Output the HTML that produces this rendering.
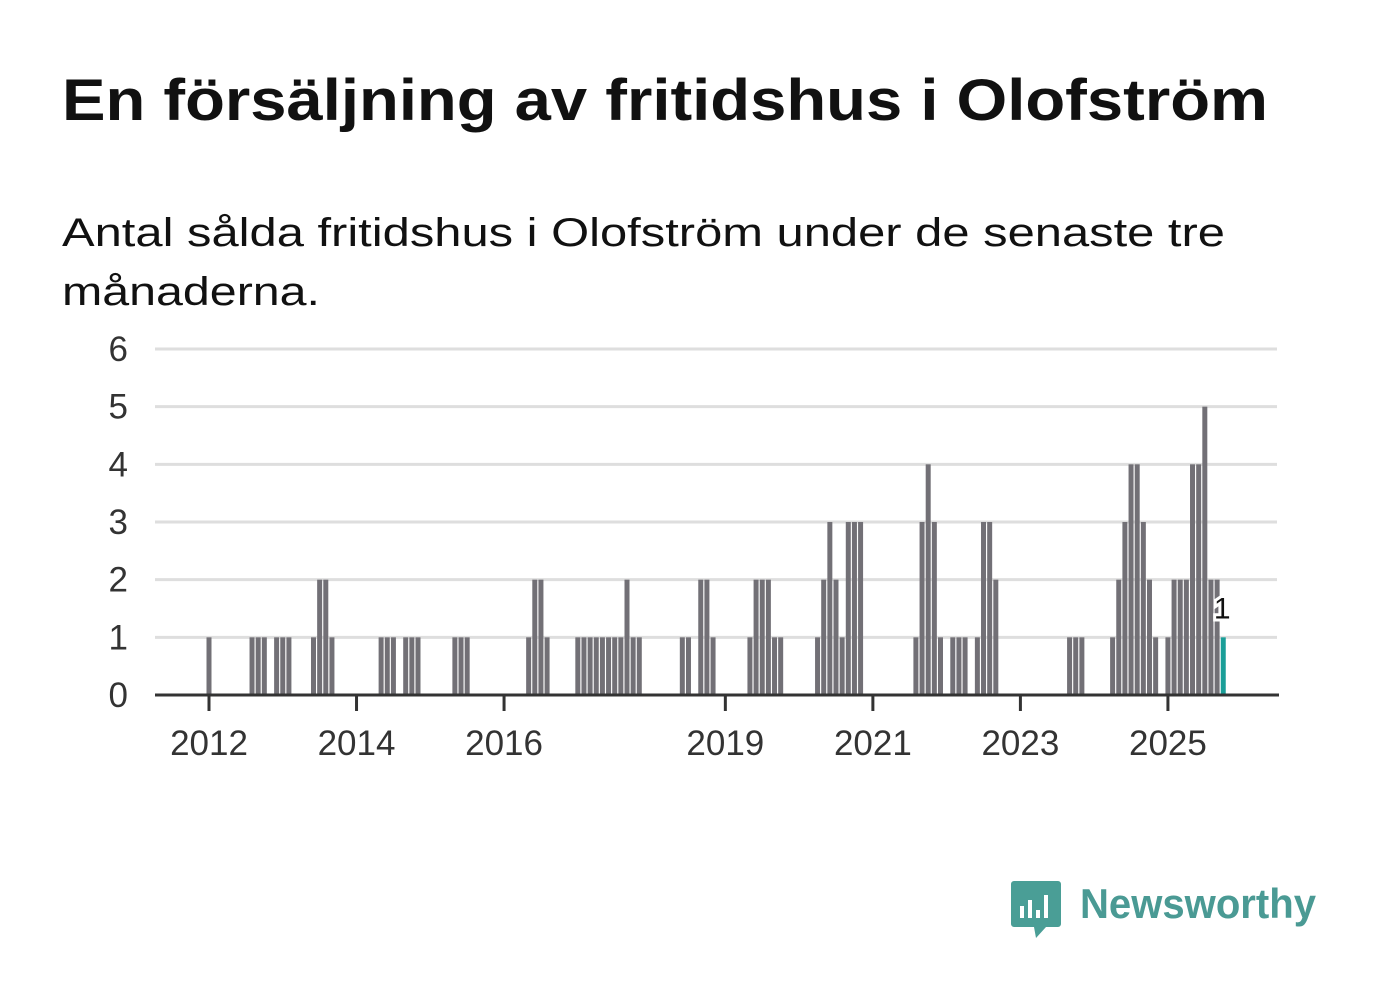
<!DOCTYPE html>
<html><head><meta charset="utf-8"><style>
html,body{margin:0;padding:0;background:#fff;}
svg{display:block;font-family:"Liberation Sans",sans-serif;}
</style></head><body>
<svg id="chart" width="1382" height="999" viewBox="0 0 1382 999" xmlns="http://www.w3.org/2000/svg">
<text x="62" y="120" font-size="58" font-weight="bold" fill="#111" textLength="1206" lengthAdjust="spacingAndGlyphs">En försäljning av fritidshus i Olofström</text>
<text x="62" y="246" font-size="40" fill="#111" textLength="1163" lengthAdjust="spacingAndGlyphs">Antal sålda fritidshus i Olofström under de senaste tre</text>
<text x="62" y="305" font-size="40" fill="#111" textLength="258" lengthAdjust="spacingAndGlyphs">månaderna.</text>
<g id="grid"></g>
<g id="bars"></g>
<g id="axes"></g>
<g>
<path d="M1014 881 h44 a3 3 0 0 1 3 3 v40 a3 3 0 0 1 -3 3 h-12 l-10 11 l-2 -11 h-20 a3 3 0 0 1 -3 -3 v-40 a3 3 0 0 1 3 -3z" fill="#4a9e96"/>
<rect x="1020" y="906" width="4" height="12" fill="#fff"/>
<rect x="1028" y="900" width="4" height="18" fill="#fff"/>
<rect x="1036" y="910" width="4" height="8" fill="#fff"/>
<rect x="1044" y="895" width="4" height="23" fill="#fff"/>
<text x="1080" y="918" font-size="42" font-weight="bold" fill="#4a9a94" textLength="236" lengthAdjust="spacingAndGlyphs">Newsworthy</text>
</g>
</svg>
<script>
const months = [0,7,8,9,11,12,13,17,18,19,20,28,29,30,32,33,34,40,41,42,52,53,54,55,60,61,62,63,64,65,66,67,68,69,70,77,78,80,81,82,88,89,90,91,92,93,99,100,101,102,103,104,105,106,115,116,117,118,119,121,122,123,125,126,127,128,140,141,142,147,148,149,150,151,152,153,154,156,157,158,159,160,161,162,163,164,165];
const values = [1,1,1,1,1,1,1,1,2,2,1,1,1,1,1,1,1,1,1,1,1,2,2,1,1,1,1,1,1,1,1,1,2,1,1,1,1,2,2,1,1,2,2,2,1,1,1,2,3,2,1,3,3,3,1,3,4,3,1,1,1,1,1,3,3,2,1,1,1,1,2,3,4,4,3,2,1,1,2,2,2,4,4,5,2,2,1];
const yTicks = [0,1,2,3,4,5,6];
const xTickYears = [2012,2014,2016,2019,2021,2023,2025];
const NS="http://www.w3.org/2000/svg";
const x = m => 209 + m*6.147;
const y = v => 695 - v*57.67;
const grid=document.getElementById('grid'), bars=document.getElementById('bars'), axes=document.getElementById('axes');
function mk(tag,attrs,parent){const e=document.createElementNS(NS,tag);for(const k in attrs)e.setAttribute(k,attrs[k]);parent.appendChild(e);return e;}
yTicks.forEach(t=>{
  if(t>0){const l=mk('line',{x1:155,x2:1277,y1:y(t),y2:y(t),stroke:'#dedede','stroke-width':3},grid);
  
  }
  const tx=mk('text',{x:128,y:y(t)+12,'font-size':35,fill:'#333','text-anchor':'end'},axes);
  tx.textContent=t;
  
  
});
months.forEach((m,i)=>{
  const last=i===months.length-1;
  const r=mk('rect',{x:x(m)-2.5,y:y(values[i]),width:5,height:695-y(values[i]),fill:last?'#1a9e98':'#727076'},bars);
  
  
  if(last){
    const lb=mk('text',{x:x(m)-1,y:y(values[i])-19,'font-size':30,fill:'#111','text-anchor':'middle',stroke:'#fff','stroke-width':6,'paint-order':'stroke'},bars);
    lb.textContent=values[i];
    
    
  }
});
const ax=mk('line',{x1:155,x2:1279,y1:695,y2:695,stroke:'#333','stroke-width':3},axes);


xTickYears.forEach(yr=>{
  const m=(yr-2012)*12;
  const tk=mk('line',{x1:x(m),x2:x(m),y1:695,y2:711,stroke:'#333','stroke-width':3},axes);
  
  
  const tx=mk('text',{x:x(m),y:755,'font-size':35,fill:'#333','text-anchor':'middle'},axes);
  tx.textContent=yr;
  
  
});
</script>
</body></html>
